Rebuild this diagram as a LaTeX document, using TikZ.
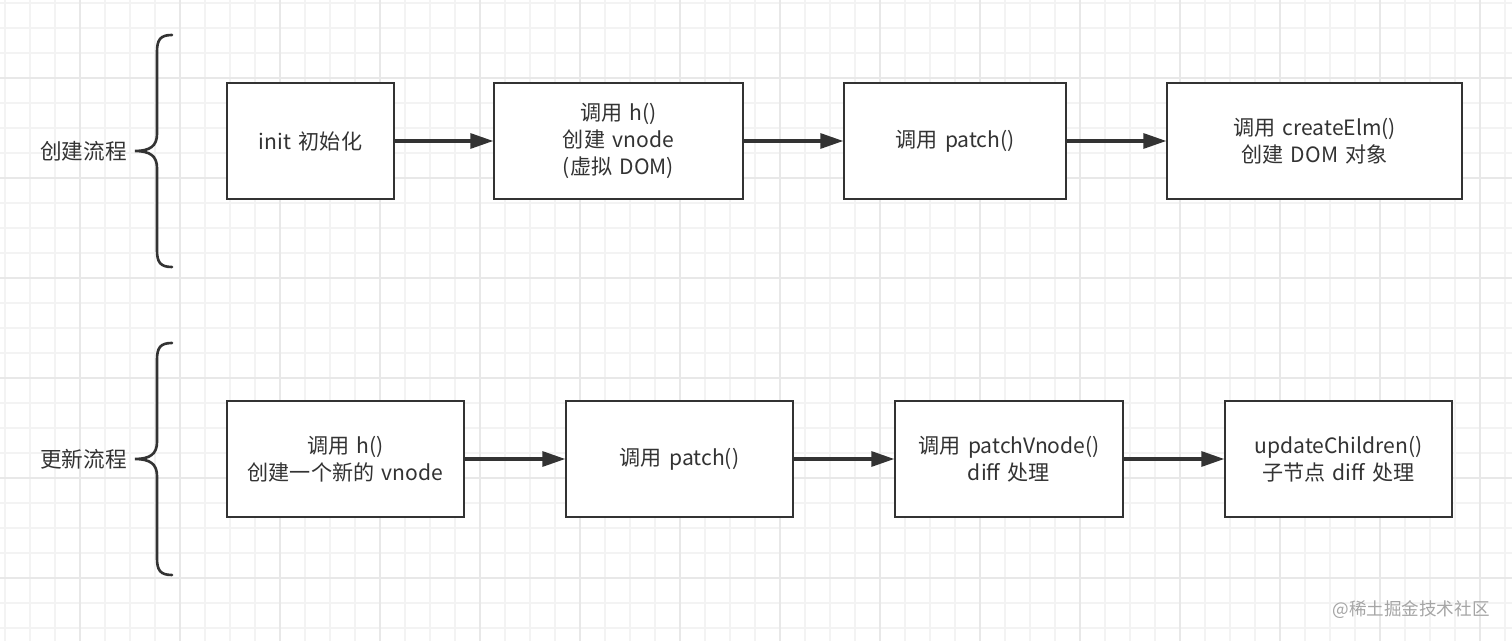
\documentclass[tikz,border=0pt]{standalone}
\usepackage{fontspec}
\setmainfont{Noto Sans CJK SC}[WordSpace=1.6]
\usetikzlibrary{arrows.meta, positioning}
\definecolor{inkgray}{RGB}{51,51,51}
\definecolor{gridminor}{RGB}{243,243,243}
\definecolor{gridmajor}{RGB}{232,232,232}
\definecolor{markgray}{RGB}{165,165,165}
\tikzset{
    stepbox/.style={rectangle, draw=inkgray, fill=white, line width=0.8pt, minimum height=2.32cm, text=inkgray, align=center, font=\fontsize{12}{15.6}\selectfont},
    flowlabel/.style={text=inkgray, font=\fontsize{12.3}{14}\selectfont},
    bracket/.style={draw=inkgray, line width=1.5pt, line cap=round},
    arrow/.style={-{Triangle[length=0.46cm, width=0.3cm]}, line width=1.8pt, inkgray},
    gridline/.style={draw=gridminor, line width=0.6pt},
    gridbold/.style={draw=gridmajor, line width=0.7pt},
}

\begin{document}
\begin{tikzpicture}[x=0.02cm, y=-0.02cm]
    \useasboundingbox[fill=white] (0,0) rectangle (1512,641);
    % background grid
    \foreach \gx in {5,30,...,1505} \draw[gridline] (\gx,0) -- (\gx,641);
    \foreach \gy in {3,28,...,640} \draw[gridline] (0,\gy) -- (1512,\gy);
    \foreach \gx in {80,180,...,1480} \draw[gridbold] (\gx,0) -- (\gx,641);
    \foreach \gy in {78,178,...,640} \draw[gridbold] (0,\gy) -- (1512,\gy);

    % creation flow
    \node[flowlabel] (create) at (83.5,151) {创建流程};
    \draw[bracket] (172,35) .. controls (160,35) and (157,40) .. (157,52) -- (157,134)
        .. controls (157,146) and (150,151) .. (135,151)
        .. controls (150,151) and (157,156) .. (157,168) -- (157,250)
        .. controls (157,262) and (160,267) .. (172,267);
    \node[stepbox, minimum width=3.34cm] (init) at (310.5,141) {init 初始化};
    \node[stepbox, minimum width=4.98cm] (callh) at (618.5,141) {调用 h()\\创建 vnode\\(虚拟 DOM)};
    \node[stepbox, minimum width=4.44cm] (patch) at (955,141) {调用 patch()};
    \node[stepbox, minimum width=5.9cm] (createelm) at (1314.5,141) {调用 createElm()\\创建 DOM 对象};
    \draw[arrow] (init) -- (callh);
    \draw[arrow] (callh) -- (patch);
    \draw[arrow] (patch) -- (createelm);

    % update flow
    \node[flowlabel] (update) at (83.5,459) {更新流程};
    \draw[bracket] (172,343) .. controls (160,343) and (157,348) .. (157,360) -- (157,442)
        .. controls (157,454) and (150,459) .. (135,459)
        .. controls (150,459) and (157,464) .. (157,476) -- (157,558)
        .. controls (157,570) and (160,575) .. (172,575);
    \node[stepbox, minimum width=4.74cm] (newh) at (345.5,459) {调用 h()\\创建一个新的 vnode};
    \node[stepbox, minimum width=4.54cm] (repatch) at (679.5,459) {调用 patch()};
    \node[stepbox, minimum width=4.56cm] (patchvnode) at (1009,459) {调用 patchVnode()\\diff 处理};
    \node[stepbox, minimum width=4.54cm] (children) at (1338.5,459) {updateChildren()\\子节点 diff 处理};
    \draw[arrow] (newh) -- (repatch);
    \draw[arrow] (repatch) -- (patchvnode);
    \draw[arrow] (patchvnode) -- (children);

    \node[text=markgray, font=\fontsize{10}{12}\selectfont] (mark) at (1411,610) {@稀土掘金技术社区};
\end{tikzpicture}
\end{document}
